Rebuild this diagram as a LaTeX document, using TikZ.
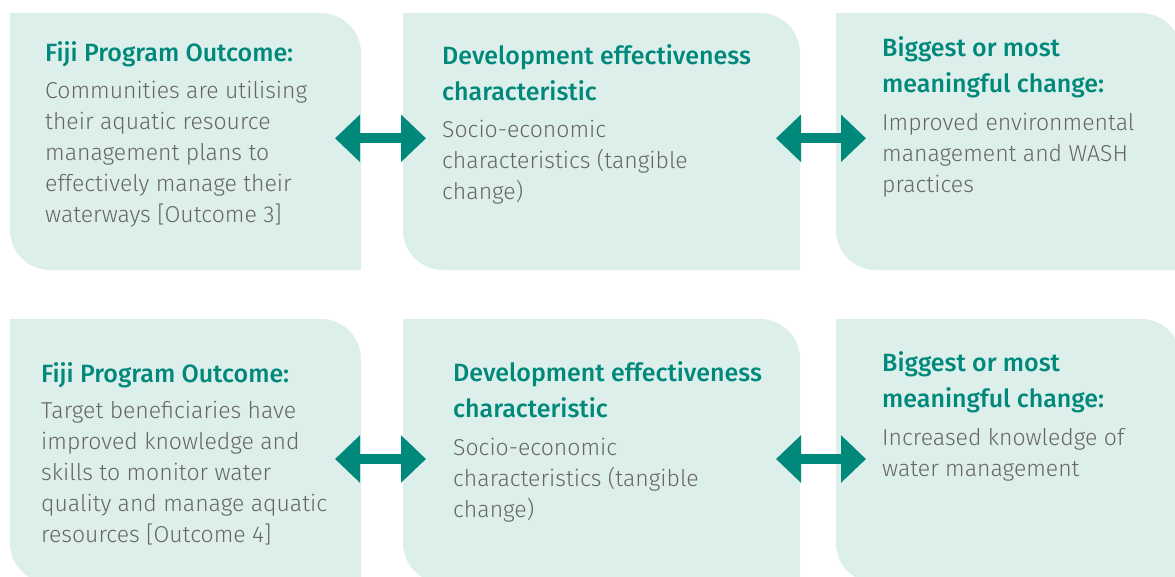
\documentclass[tikz,border=0pt]{standalone}
\usepackage{fontspec}
\newfontfamily\headfont{Fira Sans Medium}
\newfontfamily\bodyfont{Fira Sans Light}
\usetikzlibrary{arrows.meta,positioning}

\definecolor{leafgreen}{RGB}{221,239,235}
\definecolor{fijiteal}{RGB}{0,137,123}
\definecolor{bodygray}{RGB}{102,102,102}

% box with rounded top-right and bottom-left corners
\newcommand{\leaf}[1]{\fill[leafgreen] (#1.north west) -- ([xshift=-40pt]#1.north east)
  arc[start angle=90,end angle=0,radius=40pt] -- (#1.south east)
  -- ([xshift=40pt]#1.south west) arc[start angle=270,end angle=180,radius=40pt] -- cycle;}

\begin{document}
\begin{tikzpicture}[
  cell/.style={rectangle, inner sep=0pt, outer sep=0pt, minimum height=257pt},
  head/.style={inner sep=0pt, align=left, text=fijiteal, font=\headfont\fontsize{25}{36}\selectfont},
  body/.style={inner sep=0pt, align=left, text=bodygray, font=\bodyfont\fontsize{23}{31}\selectfont},
  link/.style={line width=10pt, fijiteal,
    {Triangle[length=25pt,width=46pt]}-{Triangle[length=25pt,width=46pt]}}
]
\useasboundingbox (0,0) rectangle (1175pt,-576pt);

% Boxes
\node[cell, minimum width=351pt, anchor=north west] (out1) at (10pt,-13pt) {};
\node[cell, minimum width=397pt, right=42pt of out1] (dev1) {};
\node[cell, minimum width=345pt, right=36pt of dev1] (chg1) {};

\node[cell, minimum width=351pt, minimum height=264pt, anchor=north west] (out2) at (10pt,-319pt) {};
\node[cell, minimum width=397pt, minimum height=264pt, right=42pt of out2] (dev2) {};
\node[cell, minimum width=345pt, minimum height=264pt, right=36pt of dev2] (chg2) {};

\leaf{out1} \leaf{dev1} \leaf{chg1}
\leaf{out2} \leaf{dev2} \leaf{chg2}

% Texts, top row
\node[head, below right=28pt and 35pt of out1.north west] (out1h) {Fiji Program Outcome:};
\node[body, below right=67.5pt and 35pt of out1.north west] (out1b) {Communities are utilising\\
their aquatic resource\\management plans to\\effectively manage their\\waterways [Outcome 3]};

\node[head, below right=31.5pt and 39pt of dev1.north west] (dev1h) {Development effectiveness\\characteristic};
\node[body, below right=107pt and 39pt of dev1.north west] (dev1b) {Socio-economic\\
characteristics (tangible\\change)};

\node[head, below right=23pt and 46pt of chg1.north west] (chg1h) {Biggest or most\\meaningful change:};
\node[body, below right=99.5pt and 46pt of chg1.north west] (chg1b) {Improved environmental\\
management and WASH\\practices};

% Texts, bottom row
\node[head, below right=43.5pt and 31pt of out2.north west] (out2h) {Fiji Program Outcome:};
\node[body, below right=82pt and 31pt of out2.north west] (out2b) {Target beneficiaries have\\
improved knowledge and\\skills to monitor water\\quality and manage aquatic\\resources [Outcome 4]};

\node[head, below right=42.8pt and 50pt of dev2.north west] (dev2h) {Development effectiveness\\characteristic};
\node[body, below right=118.8pt and 50pt of dev2.north west] (dev2b) {Socio-economic\\
characteristics (tangible\\change)};

\node[head, below right=32.8pt and 46pt of chg2.north west] (chg2h) {Biggest or most\\meaningful change:};
\node[body, below right=109.5pt and 46pt of chg2.north west] (chg2b) {Increased knowledge of\\
water management};

% Two-way arrows
\draw[link] ([xshift=-26pt,yshift=3.2pt]out1.east) -- ([xshift=23pt,yshift=3.2pt]dev1.west);
\draw[link] ([xshift=-24pt,yshift=3.2pt]dev1.east) -- ([xshift=30pt,yshift=3.2pt]chg1.west);
\draw[link] ([xshift=-26pt,yshift=-8pt]out2.east) -- ([xshift=23pt,yshift=-8pt]dev2.west);
\draw[link] ([xshift=-24pt,yshift=-8pt]dev2.east) -- ([xshift=30pt,yshift=-8pt]chg2.west);

\end{tikzpicture}
\end{document}
